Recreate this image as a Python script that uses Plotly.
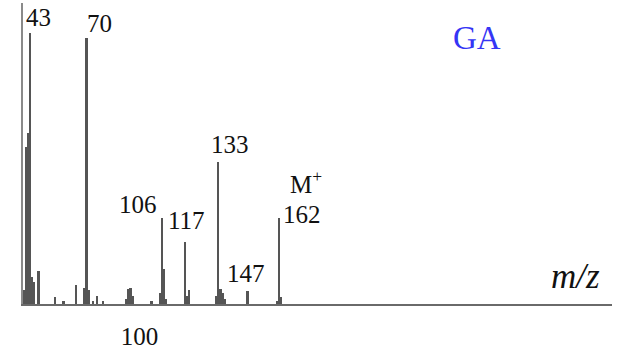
import plotly.graph_objects as go

# ---- data (m/z, relative intensity) ----
mz = [40, 41, 42, 43, 44, 45, 47, 55, 59, 65, 69, 70, 71, 73, 75, 78,
      89, 90, 91, 92, 101, 105, 106, 107, 108, 117, 118, 119,
      132, 133, 134, 135, 136, 147, 161, 162, 163]
intensity = [5, 58, 63, 100, 10, 8, 12, 2.5, 1, 7, 6, 98, 5, 1, 3, 1,
             2, 5.5, 6, 3, 1, 4, 31.7, 13, 2, 23, 3, 5,
             3, 52.4, 5.5, 4, 2, 4.8, 1, 31.7, 2.5]

# labelled peaks
label_mz = [43, 70, 106, 117, 133, 147, 162]
label_text = ["43", "70", "106", "117", "133", "147", "162"]
tick_vals = [100]
tick_text = ["100"]

W, H = 623, 353
ML, MR, MT, MB = 23, 11, 3, 49
PW, PH = W - ML - MR, H - MT - MB

def px_to_paper(px, py):
    return (px - ML) / PW, (H - MB - py) / PH

fig = go.Figure()
fig.add_trace(go.Bar(
    x=mz, y=intensity, width=0.9,
    marker=dict(color="#555555", line=dict(width=0)),
    hoverinfo="x+y"))

# label offsets (pixels) relative to the top of each labelled peak
shifts = {43: (8, 15), 70: (13, 15), 106: (-24, 14), 117: (1, 21),
          133: (11, 17), 147: (-2, 17), 162: (23, 4)}
lookup = dict(zip(mz, intensity))
serif = "Liberation Serif"
for m, t in zip(label_mz, label_text):
    dx, dy = shifts[m]
    fig.add_annotation(x=m, y=lookup[m], xref="x", yref="y", text=t,
                       showarrow=False, xanchor="center", yanchor="middle",
                       xshift=dx, yshift=dy,
                       font=dict(family=serif, size=25, color="#111111"))

# M+ above the 162 label
fig.add_annotation(x=162, y=lookup[162], xref="x", yref="y",
                   text="M<sup>+</sup>", showarrow=False,
                   xanchor="center", yanchor="middle", xshift=27, yshift=36,
                   font=dict(family=serif, size=25, color="#111111"))

gx, gy = px_to_paper(477, 38)
fig.add_annotation(x=gx, y=gy, xref="paper", yref="paper", text="GA",
                   showarrow=False, xanchor="center", yanchor="middle",
                   font=dict(family=serif, size=33, color="#3535F5"))

mx, my = px_to_paper(575, 276)
fig.add_annotation(x=mx, y=my, xref="paper", yref="paper", text="<i>m/z</i>",
                   showarrow=False, xanchor="center", yanchor="middle",
                   font=dict(family=serif, size=35, color="#111111"))

fig.update_layout(
    width=W, height=H,
    margin=dict(l=ML, r=MR, t=MT, b=MB, pad=0, autoexpand=False),
    paper_bgcolor="white", plot_bgcolor="white",
    showlegend=False, bargap=0,
    xaxis=dict(range=[39.5, 321.2], showgrid=False, zeroline=False,
               showline=True, linecolor="#6a6a6a", linewidth=2,
               automargin=False,
               ticks="", tickvals=tick_vals, ticktext=tick_text,
               ticklabelshift=-10, ticklabelstandoff=9,
               tickfont=dict(family=serif, size=25, color="#111111")),
    yaxis=dict(range=[0, 111], showgrid=False, zeroline=False,
               showline=True, linecolor="#8a8a8a", linewidth=2,
               automargin=False,
               ticks="", showticklabels=False),
)

fig.write_html("out.html",
               config={"displayModeBar": False},
               post_script="document.body.style.margin='0';")
